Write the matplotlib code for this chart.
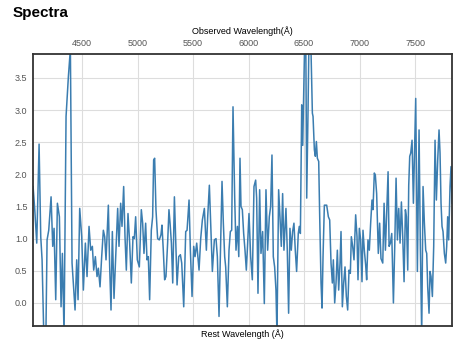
import matplotlib
matplotlib.use("Agg")
import matplotlib.pyplot as plt

plt.rcParams['font.family'] = ['Liberation Sans', 'DejaVu Sans']

# observed wavelength (Angstrom) and flux
wavelength = [
    4059, 4074, 4092, 4113, 4128, 4140, 4158, 4173, 4185, 4200,
    4221, 4236, 4248, 4263, 4278, 4296, 4311, 4323, 4338, 4356,
    4377, 4395, 4410, 4437, 4452, 4464, 4479, 4497, 4512, 4530,
    4545, 4563, 4578, 4593, 4605, 4620, 4635, 4647, 4662, 4677,
    4692, 4704, 4716, 4737, 4749, 4761, 4773, 4788, 4803, 4821,
    4833, 4848, 4860, 4875, 4887, 4899, 4914, 4929, 4944, 4959,
    4971, 4983, 4998, 5016, 5034, 5046, 5058, 5073, 5085, 5097,
    5109, 5124, 5136, 5145, 5154, 5166, 5181, 5196, 5211, 5220,
    5232, 5244, 5256, 5271, 5283, 5293, 5305, 5317, 5332, 5341,
    5356, 5371, 5386, 5398, 5416, 5434, 5446, 5464, 5476, 5491,
    5506, 5518, 5533, 5554, 5569, 5584, 5602, 5620, 5632, 5647,
    5659, 5674, 5692, 5707, 5719, 5734, 5749, 5761, 5773, 5785,
    5794, 5809, 5824, 5836, 5848, 5860, 5875, 5887, 5900, 5912,
    5923, 5932, 5944, 5956, 5968, 5980, 5992, 6004, 6019, 6034,
    6049, 6064, 6073, 6085, 6100, 6112, 6127, 6142, 6157, 6172,
    6187, 6199, 6211, 6223, 6235, 6247, 6256, 6271, 6283, 6295,
    6307, 6319, 6337, 6349, 6361, 6373, 6385, 6397, 6409, 6421,
    6433, 6448, 6457, 6467, 6479, 6488, 6497, 6506, 6515, 6524,
    6536, 6545, 6554, 6563, 6575, 6581, 6593, 6602, 6611, 6620,
    6632, 6641, 6653, 6662, 6671, 6683, 6704, 6719, 6731, 6743,
    6755, 6764, 6776, 6788, 6800, 6812, 6824, 6833, 6845, 6857,
    6869, 6881, 6893, 6905, 6917, 6926, 6938, 6950, 6965, 6977,
    6986, 6998, 7010, 7022, 7031, 7043, 7055, 7064, 7076, 7088,
    7100, 7112, 7121, 7133, 7142, 7154, 7169, 7181, 7193, 7209,
    7221, 7233, 7248, 7257, 7266, 7278, 7290, 7305, 7317, 7329,
    7341, 7353, 7365, 7377, 7389, 7401, 7413, 7422, 7434, 7443,
    7452, 7461, 7473, 7485, 7494, 7506, 7521, 7536, 7548, 7560,
    7572, 7584, 7596, 7605, 7614, 7626, 7635, 7644, 7656, 7668,
    7680, 7692, 7704, 7716, 7725, 7734, 7743, 7752, 7764, 7776,
    7785, 7794, 7803, 7815, 7824, 7833,
]
flux = [
    1.81, 1.45, 0.93, 2.47, 1.03, 0.67, -0.70, -0.70, 0.98, 1.13,
    1.65, 0.88, 1.16, 0.05, 1.55, 1.34, -0.06, 0.77, -0.50, 2.90,
    3.52, 3.95, 0.62, -0.11, 0.67, 0.05, 1.47, 1.03, 0.20, 0.93,
    0.41, 1.19, 0.82, 0.88, 0.51, 0.72, 0.41, 0.54, 0.25, 0.72,
    1.13, 1.03, 0.67, 1.52, 0.56, -0.11, 1.11, 0.07, 0.72, 1.47,
    0.88, 1.55, 1.19, 1.81, 1.03, 0.51, 1.39, 0.93, 0.31, 1.03,
    1.00, 1.34, 0.67, 0.56, 1.45, 1.24, 0.77, 1.24, 0.67, 0.72,
    0.05, 1.13, 1.34, 2.22, 2.25, 1.45, 1.00, 0.98, 1.06, 1.21,
    0.82, 0.36, 0.41, 0.93, 1.45, 1.24, 0.93, 0.31, 1.65, 1.13,
    0.28, 0.72, 0.75, 0.62, -0.06, 1.11, 1.13, 1.60, 0.82, 0.10,
    0.88, 0.72, 0.93, 0.51, 1.00, 1.29, 1.47, 0.82, 1.34, 1.83,
    1.24, 0.49, 0.98, 1.00, 0.72, -0.21, 0.93, 1.89, 1.24, 0.72,
    0.56, -0.06, 0.82, 1.11, 1.13, 3.05, 1.65, 0.82, 1.19, 0.72,
    2.25, 1.50, 1.45, 1.08, 0.82, 0.51, 0.93, 1.39, 0.72, 0.36,
    1.81, 1.91, 1.63, 0.15, 1.76, 0.77, 1.11, -0.01, 1.76, 0.82,
    1.34, 1.50, 2.30, 0.72, 0.56, 0.20, -0.50, 1.76, 1.34, 0.88,
    1.70, 0.82, 1.47, 0.82, -0.16, 1.16, 0.82, 1.11, 1.24, 0.82,
    0.49, 1.08, 1.19, 1.08, 3.08, 2.45, 3.30, 4.10, 4.30, 1.63,
    3.00, 4.20, 4.10, 3.90, 2.95, 2.90, 2.38, 2.28, 2.51, 2.25,
    2.20, 1.34, 0.31, -0.08, 0.72, 1.52, 1.52, 1.34, 1.29, 0.62,
    0.31, 0.67, 0.00, 0.31, 0.82, 0.20, 0.62, 1.11, -0.06, 0.31,
    0.56, 0.10, -0.11, 0.51, 0.46, 1.03, 0.88, 0.67, 1.37, 1.03,
    0.36, 1.16, 0.98, 0.33, 1.13, 0.82, 0.59, 0.36, 0.98, 0.82,
    1.24, 1.60, 1.45, 2.02, 1.99, 1.70, 0.77, 1.24, 0.69, 0.62,
    1.55, 0.82, 1.60, 2.04, 0.88, 0.93, 1.08, 0.00, 0.88, 1.94,
    0.98, 1.47, 0.93, 1.57, 1.03, 0.33, 1.45, 1.34, 0.51, 1.83,
    2.28, 2.33, 2.53, 1.55, 2.22, 3.18, 0.49, 2.69, 0.82, -0.50,
    1.81, 1.24, 0.82, 0.77, 0.25, -0.16, 0.49, 0.41, 0.10, 0.88,
    2.53, 1.60, 2.22, 2.69, 2.33, 1.55, 1.19, 1.11, 0.77, 0.62,
    0.88, 1.34, 0.98, 1.81, 2.12, 1.55,
]
xticks = [4500, 5000, 5500, 6000, 6500, 7000, 7500]
yticks = [0.0, 0.5, 1.0, 1.5, 2.0, 2.5, 3.0, 3.5]

fig = plt.figure(figsize=(4.66, 3.51), dpi=100)
ax = fig.add_axes([0.071, 0.071, 0.899, 0.775])

ax.plot(wavelength, flux, color='#3b7db0', linewidth=1.1)
ax.set_xlim(4059, 7833)
ax.set_ylim(-0.36, 3.87)

ax.xaxis.tick_top()
ax.xaxis.set_label_position('top')
ax.set_xticks(xticks)
ax.set_yticks(yticks)
ax.set_yticklabels([f'{v:.1f}' for v in yticks])
ax.tick_params(length=0, labelsize=6.5, labelcolor='#555555', pad=4)
ax.set_xlabel('Observed Wavelength(Å)', fontsize=6.5, labelpad=4)
ax.text(0.5, -0.012, 'Rest Wavelength (Å)', transform=ax.transAxes,
        ha='center', va='top', fontsize=6.5)

ax.grid(True, color='#dddddd', linewidth=0.8)
for s in ax.spines.values():
    s.set_color('#333333')
    s.set_linewidth(1.3)

fig.text(0.026, 0.962, 'Spectra', fontsize=11, fontweight='bold', va='center')

fig.savefig('out.png', dpi=100)
